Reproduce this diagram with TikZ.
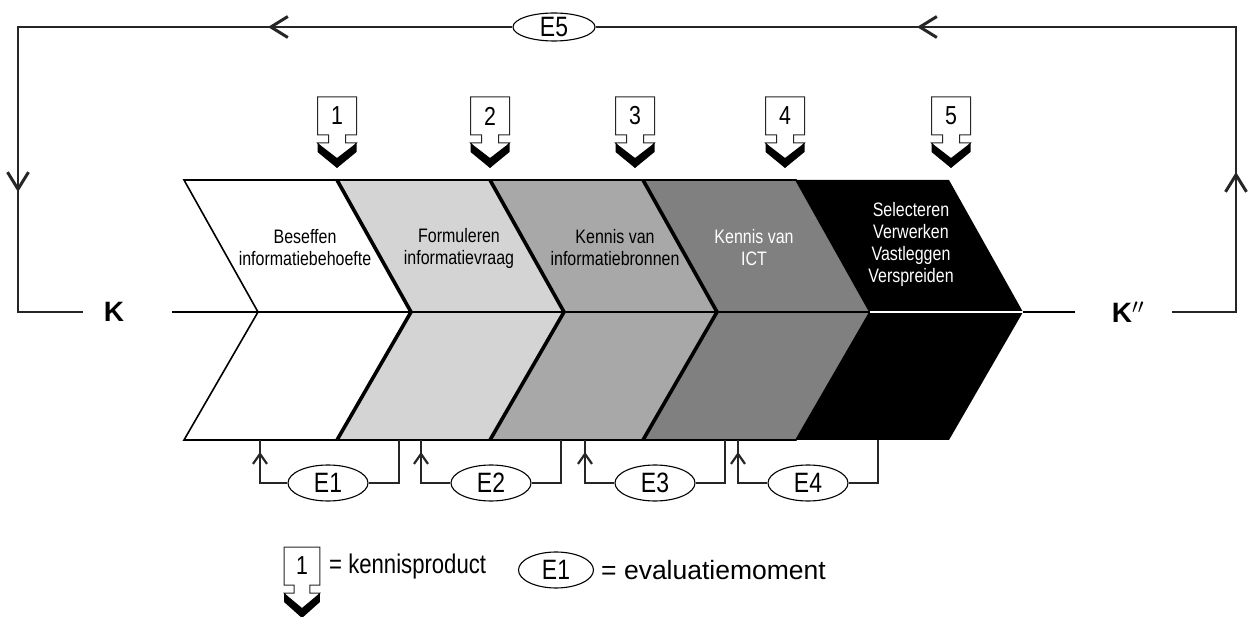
\documentclass[tikz,border=0pt]{standalone}
\usepackage{fontspec}
\setmainfont{Liberation Sans}[FakeStretch=0.82]
\newfontfamily\kfont{Liberation Sans}
\usetikzlibrary{arrows.meta,decorations.markings,shapes.geometric}

\definecolor{stageB}{gray}{0.83}
\definecolor{stageC}{gray}{0.66}
\definecolor{stageD}{gray}{0.50}

\tikzset{
  wire/.style={line width=1.3pt, draw=black!85},
  axis/.style={line width=2.4pt},
  stageedge/.style={line width=1.6pt, line join=miter},
  stagesplit/.style={line width=3.6pt, line join=miter},
  stagetext/.style={align=center, font=\fontsize{19.5}{22}\selectfont},
  evalnode/.style={ellipse, draw, line width=1.1pt, fill=white, minimum width=80pt,
    minimum height=36pt, inner sep=0pt, font=\fontsize{28}{30}\selectfont},
  kletter/.style={font=\kfont\bfseries\fontsize{28}{30}\selectfont, inner sep=0pt},
  legendtext/.style={anchor=west, inner sep=0pt},
  loopbarb/.tip={Straight Barb[length=17pt,width=21pt,line width=3pt]},
  evbarb/.tip={Straight Barb[length=10pt,width=14pt,line width=2.2pt]},
  kp/.pic={
    \path[fill=white, draw=black!85, line width=1pt, line join=miter]
      (-19.5,0) -- (19.5,0) -- (19.5,38) -- (8.5,38) -- (8.5,46) -- (19.5,46)
      -- (0,70) -- (-19.5,46) -- (-8.5,46) -- (-8.5,38) -- (-19.5,38) -- cycle;
    \fill (-19.5,46) -- (0,61) -- (19.5,46) -- (19.5,55) -- (0,71) -- (-19.5,55) -- cycle;
    \node[font=\fontsize{26}{28}\selectfont, inner sep=0pt] (-num) at (0,19) {#1};
  }
}

\begin{document}
\begin{tikzpicture}[x=1pt,y=-1pt]
\useasboundingbox (0,0) rectangle (1251,617);

% five process stages, drawn right to left
\foreach \x/\c in {796/black, 643/stageD, 490/stageC, 337/stageB, 184/white} {
  \fill[\c] (\x,180) -- ++(153,0) -- ++(74,132) -- ++(-74,128) -- ++(-153,0) -- ++(74,-128) -- cycle;
}
\foreach \x in {184,337,490,643} {
  \draw[stageedge] (\x,180) -- ++(153,0) -- ++(74,132) -- ++(-74,128) -- ++(-153,0) -- ++(74,-128) -- cycle;
}
\foreach \x in {337,490,643} {
  \draw[stagesplit] (\x,180) -- ++(74,132) -- ++(-74,128);
}

% stage labels
\node[stagetext] (s1) at (305,248) {Beseffen\\informatiebehoefte};
\node[stagetext] (s2) at (459,248) {Formuleren\\informatievraag};
\node[stagetext] (s3) at (615,248) {Kennis van\\informatiebronnen};
\node[stagetext, text=white] (s4) at (754,248) {Kennis van\\ICT};
\node[stagetext, text=white] (s5) at (911,244) {Selecteren\\Verwerken\\Vastleggen\\Verspreiden};

% start and end knowledge
\node[kletter] (K) at (114,312) {K};
\node[kletter] (Kpp) at (1128,312) {K$''$};
\coordinate (Kl) at (83,312);
\coordinate (Kr) at (172,312);
\coordinate (Kpl) at (1075,312);
\coordinate (Kpr) at (1172,312);
\coordinate (n5) at (870,312);
\coordinate (t5) at (1023,312);

% main axis
\draw[axis] (Kr) -- (Kpl);
\draw[line width=2pt, white] (n5) -- (t5);

% feedback loop E5
\node[evalnode, minimum width=82pt, minimum height=28pt] (E5) at (554,27) {E5};
\coordinate (rb) at (1236,312);
\coordinate (rt) at (1236,27);
\coordinate (lt) at (18,27);
\coordinate (lb) at (18,312);
\draw[wire, postaction={decorate}, decoration={markings,
    mark=at position 204pt with {\arrow{loopbarb}},
    mark=at position 668pt with {\arrow{loopbarb}}}]
  (Kpr) -- (rb) -- (rt) -- (E5.east);
\draw[wire, postaction={decorate}, decoration={markings,
    mark=at position 185pt with {\arrowreversed{loopbarb}},
    mark=at position 600pt with {\arrowreversed{loopbarb}}}]
  (Kl) -- (lb) -- (lt) -- (E5.west);

% knowledge products
\pic (kp1) at (337,97) {kp=1};
\pic (kp2) at (490,97) {kp=2};
\pic (kp3) at (635,97) {kp=3};
\pic (kp4) at (785,97) {kp=4};
\pic (kp5) at (951,97) {kp=5};

% evaluation moments E1..E4
\foreach \i/\a/\c/\r in {1/260/328/399, 2/421/491/561, 3/585/655/725, 4/738/808/878} {
  \node[evalnode] (E\i) at (\c,483) {E\i};
  \coordinate (ea\i) at (\a,440);
  \coordinate (er\i) at (\r,440);
  \draw[wire, postaction={decorate}, decoration={markings,
      mark=at position 12pt with {\arrowreversed{evbarb}}}]
    (ea\i) |- (E\i.west);
  \draw[wire] (er\i) |- (E\i.east);
}

% legend
\pic[xscale=0.92] (kpL) at (302,547) {kp=1};
\node[legendtext, font=\fontsize{27}{30}\selectfont] (L1) at (329,567) {= kennisproduct};
\node[evalnode, minimum width=75pt, minimum height=36pt] (EL) at (556,570) {E1};
\node[legendtext, font=\kfont\fontsize{26.5}{30}\selectfont] (L2) at (601,570) {= evaluatiemoment};
\end{tikzpicture}
\end{document}
